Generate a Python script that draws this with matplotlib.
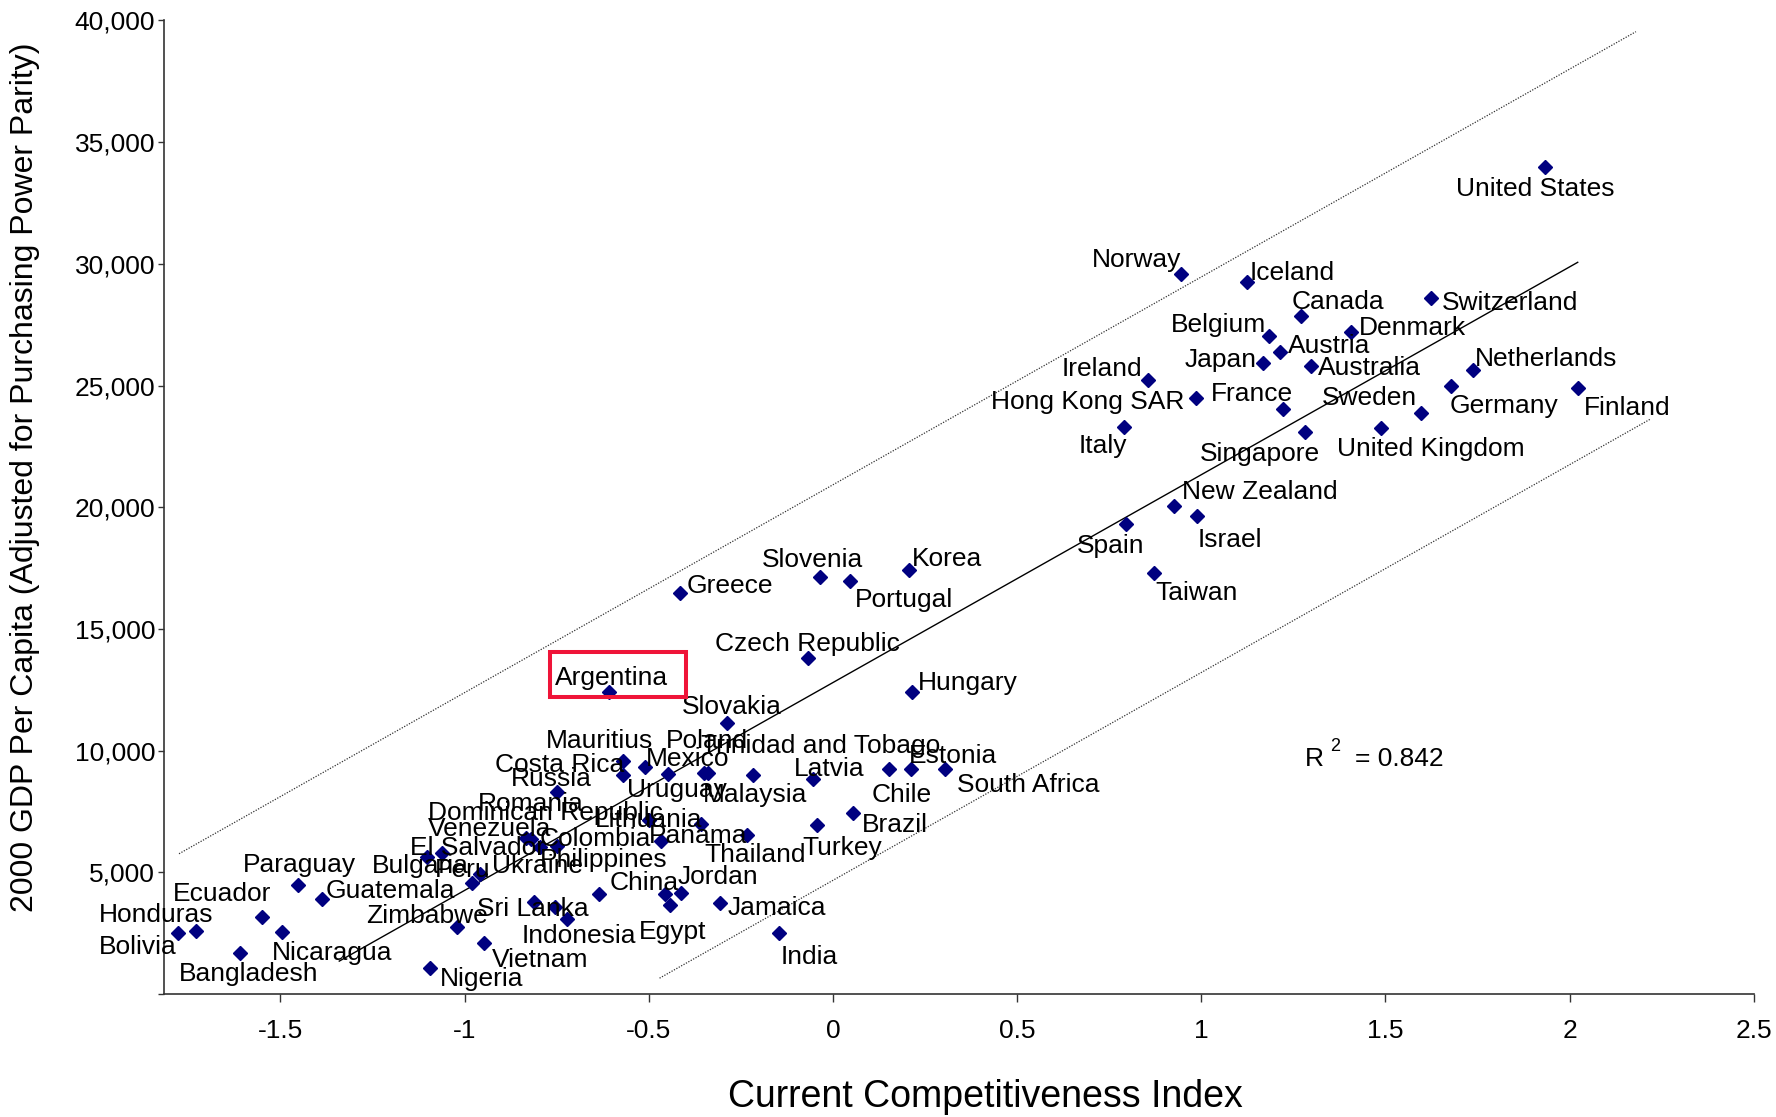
import numpy as np
import matplotlib
matplotlib.use("Agg")
import matplotlib.pyplot as plt
from matplotlib.patches import Rectangle
from matplotlib.transforms import Affine2D, ScaledTranslation
from matplotlib.ticker import FuncFormatter, MultipleLocator

plt.rcParams["font.family"] = ["Liberation Sans", "DejaVu Sans"]
plt.rcParams["axes.unicode_minus"] = False

# ── data ──────────────────────────────────────────────────
countries = [
    "United States", "Norway", "Iceland", "Canada", "Switzerland", "Belgium",
    "Denmark", "Austria", "Japan", "Australia", "Netherlands", "Ireland",
    "Germany", "Finland", "Hong Kong SAR", "France", "Sweden", "Italy",
    "Singapore", "United Kingdom", "New Zealand", "Israel", "Spain", "Taiwan",
    "Korea", "Slovenia", "Portugal", "Greece", "Czech Republic", "Hungary",
    "Argentina", "Slovakia", "Mauritius", "Mexico", "Uruguay", "Poland",
    "Trinidad and Tobago", "Malaysia", "Latvia", "Costa Rica", "Russia",
    "Chile", "Estonia", "South Africa", "Lithuania", "Romania",
    "Dominican Republic", "Venezuela", "El Salvador", "Bulgaria", "Peru",
    "Ukraine", "Colombia", "Philippines", "Panama", "Thailand", "Turkey",
    "Brazil", "China", "Jordan", "Egypt", "Jamaica", "Sri Lanka", "Indonesia",
    "Zimbabwe", "Vietnam", "Nigeria", "India", "Bolivia", "Honduras",
    "Ecuador", "Bangladesh", "Nicaragua", "Paraguay", "Guatemala", "", "",
]
cci = [
    1.932, 0.945, 1.123, 1.271, 1.625, 1.185,
    1.406, 1.215, 1.169, 1.298, 1.738, 0.855,
    1.677, 2.022, 0.985, 1.222, 1.597, 0.791,
    1.283, 1.489, 0.926, 0.988, 0.797, 0.871,
    0.206, -0.034, 0.046, -0.415, -0.068, 0.215,
    -0.608, -0.287, -0.570, -0.511, -0.448, -0.349,
    -0.340, -0.217, -0.055, -0.570, -0.749,
    0.153, 0.211, 0.304, -0.498, -0.820,
    -0.795, -0.833, -1.062, -1.102, -0.980,
    -0.958, -0.466, -0.749, -0.357, -0.233, -0.043,
    0.055, -0.636, -0.412, -0.441, -0.306, -0.810, -0.722,
    -1.021, -0.946, -1.093, -0.147, -1.777, -1.729,
    -1.550, -1.609, -1.495, -1.451, -1.386, -0.754, -0.457,
]
gdp = [
    33960, 29580, 29260, 27860, 28610, 27020,
    27210, 26370, 25910, 25820, 25630, 25210,
    24980, 24880, 24470, 24050, 23860, 23300,
    23110, 23250, 20040, 19620, 19300, 17290,
    17430, 17150, 16970, 16460, 13800, 12410,
    12420, 11150, 9580, 9340, 9040, 9090,
    9100, 9000, 8830, 9000, 8310,
    9240, 9240, 9240, 7150, 6380,
    6050, 6400, 5810, 5620, 4570,
    4930, 6270, 6080, 6980, 6540, 6940,
    7440, 4100, 4160, 3660, 3750, 3790, 3080,
    2740, 2110, 1060, 2520, 2520, 2590,
    3150, 1670, 2530, 4490, 3900, 3560, 4100,
]
r_squared = 0.842
fit_slope = 8540
fit_intercept = 12795
band = 8126
fit_span = (-1.34, 2.022)
upper_span = (-1.775, 2.18)
lower_span = (-0.4705, 2.219)

# label offsets from the marker, pixels (x right, y up)
LABEL_OFFSETS = {
    "United States": (-89, -19), "Norway": (-89, 17), "Iceland": (3, 12),
    "Canada": (-9, 17), "Switzerland": (10, -2), "Belgium": (-99, 14),
    "Denmark": (8, 7), "Austria": (8, 9), "Japan": (-79, 6),
    "Australia": (7, 1), "Netherlands": (2, 14), "Ireland": (-86, 14),
    "Germany": (-1, -17), "Finland": (6, -17), "Hong Kong SAR": (-205, -1),
    "France": (-72, 18), "Sweden": (-99, 18), "Italy": (-46, -16),
    "Singapore": (-106, -19), "United Kingdom": (-44, -18),
    "New Zealand": (8, 17), "Israel": (1, -21), "Spain": (-50, -19),
    "Taiwan": (2, -17), "Korea": (3, 14), "Slovenia": (-59, 20),
    "Portugal": (5, -16), "Greece": (7, 10), "Czech Republic": (-93, 17),
    "Hungary": (6, 12), "Argentina": (-54, 17), "Slovakia": (-45, 19),
    "Mauritius": (-77, 23), "Mexico": (1, 11), "Uruguay": (-41, -13),
    "Poland": (-38, 35), "Trinidad and Tobago": (-7, 30),
    "Malaysia": (-50, -17), "Latvia": (-19, 13), "Costa Rica": (-128, 13),
    "Russia": (-46, 16), "Chile": (-18, -23), "Estonia": (-2, 16),
    "South Africa": (12, -13), "Lithuania": (-55, 3), "Romania": (-53, 38),
    "Dominican Republic": (-112, 37), "Venezuela": (-98, 12),
    "El Salvador": (-32, 8), "Bulgaria": (-55, -6), "Peru": (-37, 16),
    "Ukraine": (12, 11), "Colombia": (-122, 5), "Philippines": (-17, -11),
    "Panama": (-52, -9), "Thailand": (-43, -17), "Turkey": (-15, -20),
    "Brazil": (9, -9), "China": (11, 14), "Jordan": (-3, 19),
    "Egypt": (-32, -24), "Jamaica": (7, -2), "Sri Lanka": (-57, -4),
    "Indonesia": (-45, -14), "Zimbabwe": (-91, 14), "Vietnam": (7, -14),
    "Nigeria": (10, -8), "India": (2, -21), "Bolivia": (-79, -11),
    "Honduras": (-97, 19), "Ecuador": (-89, 26), "Bangladesh": (-61, -18),
    "Nicaragua": (-10, -18), "Paraguay": (-55, 23), "Guatemala": (3, 11),
}
LABEL_SHIFT_Y = -3   # text sits a touch lower than its centre box

LABEL_FS = 19
MARKER_COLOR = "#000080"
BOX_COLOR = "#EF1438"

fig = plt.figure(figsize=(17.76, 11.17), dpi=100)
ax = fig.add_axes([0.0925, 0.1101, 0.8950, 0.8716])

# trend line and dotted band
xs = np.array(fit_span)
ax.plot(xs, fit_intercept + fit_slope * xs, color="black", lw=1.0, zorder=2)
xs = np.array(upper_span)
ax.plot(xs, fit_intercept + band + fit_slope * xs, color="#333333",
        lw=0.9, ls=(0, (1, 1.2)), zorder=2)
xs = np.array(lower_span)
ax.plot(xs, fit_intercept - band + fit_slope * xs, color="#333333",
        lw=0.9, ls=(0, (1, 1.2)), zorder=2)

ax.plot(cci, gdp, ls="none", marker="D", ms=6.8, color=MARKER_COLOR,
        mec=MARKER_COLOR, zorder=3, clip_on=False)

for name, x, y in zip(countries, cci, gdp):
    if not name:
        continue
    dx, dy = LABEL_OFFSETS[name]
    ax.annotate(name, (x, y), xytext=(dx, dy + LABEL_SHIFT_Y),
                textcoords="offset pixels", ha="left", va="center",
                fontsize=LABEL_FS, zorder=4)

# red highlight box round Argentina
i = countries.index("Argentina")
trans = Affine2D() + ScaledTranslation(cci[i], gdp[i], ax.transData)
ax.add_artist(Rectangle((-58.5, -5.6), 135.7, 45.3, transform=trans,
                        fill=False, ec=BOX_COLOR, lw=2.9, clip_on=False,
                        zorder=5))

# R² note
ax.text(0.7178, 0.2410, "R", transform=ax.transAxes, fontsize=LABEL_FS,
        ha="left", va="center")
ax.text(0.7336, 0.2545, "2", transform=ax.transAxes, fontsize=13,
        ha="left", va="center")
ax.text(0.7492, 0.2410, f"= {r_squared:.3f}", transform=ax.transAxes,
        fontsize=LABEL_FS, ha="left", va="center")

# axes
ax.set_xlim(-1.815, 2.5)
ax.set_ylim(0, 40000)
ax.xaxis.set_major_locator(MultipleLocator(0.5))
ax.yaxis.set_major_locator(MultipleLocator(5000))
ax.xaxis.set_major_formatter(FuncFormatter(lambda v, p: f"{v:g}"))
ax.yaxis.set_major_formatter(FuncFormatter(lambda v, p: "" if v == 0 else f"{v:,.0f}"))
ax.tick_params(axis="x", direction="out", length=6, width=1, labelsize=19,
               pad=12, color="#333333")
ax.tick_params(axis="y", direction="out", length=4.5, width=1, labelsize=19,
               pad=2, color="#333333")
for s in ["top", "right"]:
    ax.spines[s].set_visible(False)
for s in ["left", "bottom"]:
    ax.spines[s].set_color("#333333")
    ax.spines[s].set_linewidth(1.2)

ax.set_xlabel("Current Competitiveness Index", fontsize=27, va="center")
ax.xaxis.set_label_coords(0.5164, -0.1055)
ax.set_ylabel("2000 GDP Per Capita (Adjusted for Purchasing Power Parity)",
              fontsize=23, va="center")
ax.yaxis.set_label_coords(-0.0876, 0.5305)

fig.savefig("out.png", dpi=100)
plt.close(fig)
